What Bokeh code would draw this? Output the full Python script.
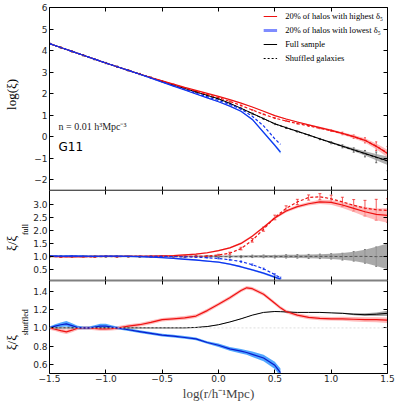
import numpy as np
from bokeh.plotting import figure
from bokeh.layouts import column
from bokeh.models import (Range1d, LinearAxis, FixedTicker, Label, Legend, LegendItem,
                          ColumnDataSource, Span, Whisker, TeeHead)
from bokeh.embed import file_html
from bokeh.resources import INLINE

# ---------------- data ----------------
xs = [-1.5, -1.4, -1.3, -1.2, -1.1, -1.0, -0.9, -0.8, -0.7, -0.6, -0.5, -0.4, -0.3, -0.2, -0.1,
      0.0, 0.1, 0.2, 0.3, 0.4, 0.5, 0.6, 0.7, 0.8, 0.9, 1.0, 1.1, 1.2, 1.3, 1.4, 1.5]
xs_blue = [-1.5, -1.4, -1.3, -1.2, -1.1, -1.0, -0.9, -0.8, -0.7, -0.6, -0.5, -0.4, -0.3, -0.2, -0.1,
           0.0, 0.1, 0.2, 0.3, 0.4, 0.5, 0.55]

# top panel: log(xi)
full_top = [4.32, 4.14, 3.96, 3.78, 3.60, 3.42, 3.25, 3.08, 2.91, 2.74, 2.57, 2.40, 2.24, 2.08, 1.92,
            1.76, 1.55, 1.32, 1.08, 0.84, 0.60, 0.42, 0.25, 0.08, -0.10, -0.27, -0.44, -0.61, -0.78, -0.95, -1.12]
full_err_top = [0.01, 0.01, 0.01, 0.01, 0.01, 0.01, 0.01, 0.01, 0.01, 0.01, 0.01, 0.01, 0.01, 0.01, 0.01,
                0.01, 0.01, 0.01, 0.01, 0.01, 0.015, 0.02, 0.02, 0.025, 0.03, 0.04, 0.05, 0.07, 0.10, 0.14, 0.20]
shuf_top = [4.32, 4.14, 3.96, 3.78, 3.60, 3.42, 3.25, 3.08, 2.91, 2.74, 2.57, 2.40, 2.24, 2.08, 1.91,
            1.75, 1.54, 1.31, 1.07, 0.83, 0.59, 0.41, 0.24, 0.07, -0.11, -0.28, -0.45, -0.62, -0.79, -0.96, -1.13]
shuf_err_top = [0.03, 0.03, 0.03, 0.03, 0.03, 0.03, 0.03, 0.03, 0.03, 0.03, 0.03, 0.03, 0.03, 0.03, 0.03,
                0.03, 0.03, 0.03, 0.03, 0.03, 0.03, 0.03, 0.03, 0.03, 0.03, 0.05, 0.07, 0.10, 0.15, 0.25, 0.45]
red_top = [4.32, 4.14, 3.96, 3.78, 3.60, 3.42, 3.25, 3.08, 2.91, 2.75, 2.59, 2.44, 2.29, 2.15, 2.01,
           1.87, 1.72, 1.56, 1.38, 1.18, 0.98, 0.82, 0.68, 0.55, 0.42, 0.29, 0.15, 0.0, -0.17, -0.45, -0.78]
red_err_top = [0.01, 0.01, 0.01, 0.01, 0.01, 0.01, 0.01, 0.01, 0.01, 0.01, 0.01, 0.01, 0.01, 0.01, 0.01,
               0.01, 0.01, 0.01, 0.01, 0.01, 0.02, 0.02, 0.03, 0.03, 0.04, 0.05, 0.06, 0.08, 0.10, 0.13, 0.17]
red_shuf_top = [4.32, 4.14, 3.96, 3.78, 3.60, 3.42, 3.25, 3.08, 2.91, 2.74, 2.58, 2.42, 2.26, 2.11, 1.96,
                1.81, 1.64, 1.45, 1.24, 1.04, 0.86, 0.73, 0.61, 0.50, 0.39, 0.28, 0.15, 0.0, -0.17, -0.44, -0.76]
red_shuf_err_top = [0.02, 0.02, 0.02, 0.02, 0.02, 0.02, 0.02, 0.02, 0.02, 0.02, 0.02, 0.02, 0.02, 0.02, 0.02,
                    0.02, 0.02, 0.02, 0.02, 0.02, 0.02, 0.02, 0.02, 0.02, 0.02, 0.04, 0.06, 0.08, 0.12, 0.20, 0.30]
blue_top = [4.32, 4.14, 3.96, 3.78, 3.60, 3.42, 3.25, 3.08, 2.90, 2.72, 2.53, 2.35, 2.17, 1.98, 1.80,
            1.62, 1.42, 1.18, 0.80, 0.20, -0.40, -0.72]
blue_err_top = [0.01, 0.01, 0.01, 0.01, 0.01, 0.01, 0.01, 0.01, 0.01, 0.01, 0.01, 0.01, 0.01, 0.01, 0.01,
                0.01, 0.02, 0.03, 0.04, 0.05, 0.06, 0.07]
blue_shuf_top = [4.32, 4.14, 3.96, 3.78, 3.60, 3.42, 3.25, 3.08, 2.91, 2.73, 2.55, 2.37, 2.20, 2.02, 1.85,
                 1.68, 1.50, 1.28, 0.95, 0.50, -0.10, -0.36]

# middle panel: xi / xi_full
red_mid = [1.0, 0.99, 0.98, 0.99, 1.0, 1.0, 1.0, 1.0, 1.0, 1.01, 1.02, 1.03, 1.06, 1.09, 1.14,
           1.22, 1.33, 1.50, 1.78, 2.12, 2.48, 2.75, 2.92, 3.03, 3.10, 3.08, 2.98, 2.85, 2.72, 2.62, 2.58]
red_err_mid = [0.02, 0.02, 0.02, 0.02, 0.02, 0.02, 0.02, 0.02, 0.02, 0.02, 0.02, 0.02, 0.025, 0.025, 0.03,
               0.03, 0.035, 0.04, 0.04, 0.045, 0.05, 0.055, 0.06, 0.07, 0.08, 0.09, 0.11, 0.14, 0.18, 0.23, 0.28]
red_shuf_mid = [1.0, 0.98, 1.0, 0.99, 0.98, 1.0, 0.99, 1.0, 1.0, 0.99, 1.0, 1.0, 1.0, 1.0, 1.01,
                1.05, 1.12, 1.30, 1.62, 2.05, 2.50, 2.85, 3.10, 3.27, 3.30, 3.22, 3.10, 2.97, 2.86, 2.80, 2.77]
red_shuf_err_mid = [0.02, 0.02, 0.02, 0.02, 0.02, 0.02, 0.02, 0.02, 0.02, 0.02, 0.02, 0.02, 0.02, 0.02, 0.02,
                    0.03, 0.04, 0.05, 0.07, 0.08, 0.09, 0.10, 0.10, 0.10, 0.12, 0.14, 0.18, 0.22, 0.30, 0.40, 0.45]
blue_mid = [1.02, 1.01, 1.02, 1.01, 1.0, 1.01, 1.01, 1.0, 0.99, 0.97, 0.95, 0.92, 0.89, 0.86, 0.82,
            0.78, 0.70, 0.60, 0.48, 0.35, 0.20, 0.12]
blue_err_mid = [0.02, 0.02, 0.02, 0.02, 0.02, 0.02, 0.02, 0.02, 0.02, 0.02, 0.02, 0.02, 0.02, 0.02, 0.025,
                0.025, 0.03, 0.03, 0.035, 0.04, 0.045, 0.05]
blue_shuf_mid = [1.0, 1.0, 1.0, 1.0, 1.0, 1.0, 1.0, 1.0, 1.0, 1.0, 1.0, 0.99, 0.98, 0.97, 0.95,
                 0.92, 0.87, 0.80, 0.68, 0.52, 0.30, 0.17]
blue_shuf_err_mid = [0.01, 0.01, 0.01, 0.01, 0.01, 0.01, 0.01, 0.01, 0.01, 0.01, 0.01, 0.01, 0.01, 0.01, 0.015,
                     0.02, 0.02, 0.025, 0.03, 0.03, 0.03, 0.03]
full_mid = [1.0, 1.0, 1.0, 1.0, 1.0, 1.0, 1.0, 1.0, 1.0, 1.0, 1.0, 1.0, 1.0, 1.0, 1.0,
            1.0, 1.0, 1.0, 1.0, 1.0, 1.0, 1.0, 1.0, 1.0, 1.0, 1.0, 1.0, 1.0, 1.0, 1.0, 1.0]
full_err_mid = [0.03, 0.03, 0.03, 0.03, 0.03, 0.03, 0.03, 0.03, 0.03, 0.03, 0.03, 0.03, 0.03, 0.03, 0.03,
                0.03, 0.035, 0.04, 0.045, 0.05, 0.05, 0.06, 0.065, 0.075, 0.085, 0.10, 0.13, 0.18, 0.26, 0.37, 0.50]
shuf_mid = [1.0, 1.0, 0.99, 1.0, 1.0, 1.0, 1.0, 1.0, 0.99, 1.0, 1.0, 1.0, 0.99, 1.0, 1.0,
            0.99, 0.99, 0.99, 1.0, 1.0, 0.99, 1.0, 1.0, 1.0, 1.0, 1.0, 0.99, 1.0, 1.0, 0.99, 1.0]

# bottom panel: xi / xi_shuffled
xb = [-1.5, -1.45, -1.4, -1.35, -1.3, -1.25, -1.2, -1.15, -1.1, -1.05, -1.0, -0.95, -0.9, -0.8, -0.7,
      -0.6, -0.5, -0.4, -0.3, -0.2, -0.1, 0.0, 0.1, 0.2, 0.25, 0.3, 0.4, 0.5, 0.55, 0.6, 0.7, 0.8, 0.9,
      1.0, 1.1, 1.2, 1.3, 1.4, 1.5]
xb_blue = [-1.5, -1.45, -1.4, -1.35, -1.3, -1.25, -1.2, -1.15, -1.1, -1.05, -1.0, -0.95, -0.9, -0.8, -0.7,
           -0.6, -0.5, -0.4, -0.3, -0.2, -0.1, 0.0, 0.1, 0.2, 0.25, 0.3, 0.4, 0.5, 0.55]
red_bot = [1.0, 0.985, 0.97, 0.957, 0.975, 0.998, 1.0, 1.0, 0.995, 0.99, 0.99, 0.992, 0.998, 1.02, 1.035,
           1.06, 1.09, 1.10, 1.11, 1.13, 1.19, 1.26, 1.33, 1.41, 1.44, 1.43, 1.37, 1.27, 1.22, 1.18, 1.14,
           1.115, 1.105, 1.10, 1.10, 1.095, 1.09, 1.09, 1.085]
red_err_bot = [0.02, 0.02, 0.022, 0.025, 0.022, 0.02, 0.02, 0.02, 0.02, 0.02, 0.02, 0.02, 0.02, 0.02, 0.02,
               0.02, 0.02, 0.02, 0.02, 0.02, 0.02, 0.02, 0.02, 0.02, 0.02, 0.02, 0.02, 0.02, 0.02, 0.02, 0.02,
               0.02, 0.02, 0.02, 0.022, 0.024, 0.026, 0.028, 0.03]
blue_bot = [1.0, 1.02, 1.035, 1.045, 1.025, 1.005, 1.0, 1.0, 1.01, 1.02, 1.02, 1.01, 1.0, 0.98, 0.96,
            0.94, 0.92, 0.91, 0.895, 0.88, 0.84, 0.81, 0.77, 0.745, 0.73, 0.71, 0.67, 0.59, 0.51]
blue_err_bot = [0.015, 0.02, 0.025, 0.03, 0.025, 0.02, 0.015, 0.015, 0.02, 0.025, 0.025, 0.02, 0.015, 0.015, 0.015,
                0.015, 0.015, 0.015, 0.015, 0.015, 0.015, 0.02, 0.02, 0.025, 0.025, 0.03, 0.035, 0.04, 0.045]
full_bot = [1.0, 1.0, 1.0, 1.0, 1.0, 1.0, 1.0, 1.0, 1.0, 1.0, 1.0, 1.0, 1.0, 1.0, 1.0,
            1.0, 1.0, 1.0, 1.0, 1.005, 1.015, 1.035, 1.065, 1.10, 1.12, 1.14, 1.17, 1.18, 1.178, 1.175, 1.17,
            1.17, 1.17, 1.165, 1.16, 1.15, 1.145, 1.15, 1.16]
full_err_bot = [0.002, 0.002, 0.002, 0.002, 0.002, 0.002, 0.002, 0.002, 0.002, 0.002, 0.002, 0.002, 0.002, 0.002, 0.002,
                0.002, 0.002, 0.002, 0.002, 0.002, 0.002, 0.002, 0.002, 0.002, 0.002, 0.002, 0.002, 0.002, 0.002, 0.002,
                0.002, 0.002, 0.002, 0.002, 0.006, 0.01, 0.015, 0.02, 0.028]

x_ticks = [-1.5, -1.0, -0.5, 0.0, 0.5, 1.0, 1.5]
x_tick_labels = ["\u22121.5", "\u22121.0", "\u22120.5", "0.0", "0.5", "1.0", "1.5"]
top_ticks = [-2, -1, 0, 1, 2, 3, 4, 5, 6]
top_tick_labels = ["\u22122", "\u22121", "0", "1", "2", "3", "4", "5", "6"]
mid_ticks = [0.5, 1.0, 1.5, 2.0, 2.5, 3.0]
mid_tick_labels = ["0.5", "1.0", "1.5", "2.0", "2.5", "3.0"]
bot_ticks = [0.6, 0.8, 1.0, 1.2, 1.4]
bot_tick_labels = ["0.6", "0.8", "1.0", "1.2", "1.4"]

legend_labels = ["20% of halos with highest \u03b4\u2085", "20% of halos with lowest \u03b4\u2085",
                 "Full sample", "Shuffled galaxies"]

# ---------------- styling helpers ----------------
RED = "#ee1111"
BLUE = "#1133ee"
BLUE_BAND = "#3d9cff"
RED_BAND = "#ff9c9c"
GRAY_BAND = "#9a9a9a"
SERIF = "Liberation Serif"
EM, EN, THIN = "\u2003", "\u2002", "\u2009"

xr = Range1d(-1.5, 1.5)
TOP_H, MID_H, BOT_H, TOP_PAD = 183, 90, 93, 7
LEFT_B, FRAME_W = 48, 338


def style_axis(ax, ticks, labels=None, line_color="black", line_width=1):
    ax.ticker = FixedTicker(ticks=ticks)
    ax.major_tick_in = 4
    ax.major_tick_out = 0
    ax.minor_tick_line_color = None
    ax.axis_line_color = line_color
    ax.axis_line_width = line_width
    ax.major_tick_line_color = "black"
    if labels is not None:
        ax.major_label_overrides = {float(t): l for t, l in zip(ticks, labels)}
        ax.major_label_text_font = "DejaVu Sans"
        ax.major_label_text_font_size = "9px"
        ax.major_label_text_color = "#262626"
        ax.major_label_standoff = 2
    else:
        ax.major_label_text_font_size = "0px"
        ax.major_label_text_color = None
        ax.major_label_standoff = 0


def set_title(ax, text, size, standoff):
    ax.axis_label = text
    ax.axis_label_text_font = SERIF
    ax.axis_label_text_font_style = "normal"
    ax.axis_label_text_font_size = size
    ax.axis_label_text_color = "black"
    ax.axis_label_standoff = standoff


def add_outer_title(p, text, size, standoff):
    ax = LinearAxis(ticker=FixedTicker(ticks=[]), axis_line_color=None,
                    major_tick_line_color=None, minor_tick_line_color=None,
                    major_label_text_font_size="0px", major_label_standoff=0,
                    major_tick_in=0, major_tick_out=0)
    set_title(ax, text, size, standoff)
    p.add_layout(ax, "left")


def make_fig(yr, fh, top_border, bottom_border):
    p = figure(x_range=xr, y_range=Range1d(*yr), frame_width=FRAME_W, frame_height=fh,
               output_backend="svg", toolbar_location=None,
               min_border_left=LEFT_B, min_border_right=8,
               min_border_top=top_border, min_border_bottom=bottom_border)
    p.xgrid.visible = False
    p.ygrid.visible = False
    p.outline_line_color = None
    p.add_layout(LinearAxis(), "above")
    p.add_layout(LinearAxis(), "right")
    return p


def band(p, x, y, e, color, alpha):
    y = np.array(y)
    e = np.array(e)
    return p.varea(x=x, y1=y - e, y2=y + e, fill_color=color, fill_alpha=alpha)


def errbars(p, x, y, e, color, width=0.8, head=3):
    y = np.array(y)
    e = np.array(e)
    src = ColumnDataSource(dict(base=x, lower=y - e, upper=y + e))
    w = Whisker(source=src, base="base", lower="lower", upper="upper",
                line_color=color, line_width=width,
                upper_head=TeeHead(size=head, line_color=color, line_width=width),
                lower_head=TeeHead(size=head, line_color=color, line_width=width))
    p.add_layout(w)


# ---------------- top panel ----------------
p1 = make_fig((-2.5, 6), TOP_H, TOP_PAD, 0)
style_axis(p1.left[0], top_ticks, top_tick_labels)
style_axis(p1.right[0], top_ticks)
style_axis(p1.above[0], x_ticks)
style_axis(p1.below[0], x_ticks, line_width=1.5)
set_title(p1.left[0], EN + THIN + "log(\u03be)", "13px", 12)

band(p1, xs, full_top, full_err_top, GRAY_BAND, 0.8)
band(p1, xs, red_top, red_err_top, RED_BAND, 0.7)
band(p1, xs_blue, blue_top, blue_err_top, BLUE_BAND, 0.7)
p1.line(xs, full_top, line_color="black", line_width=1)
p1.line(xs, shuf_top, line_color="black", line_width=1, line_dash="3 2")
errbars(p1, xs, shuf_top, shuf_err_top, "#333333", 0.7, 2)
p1.line(xs, red_top, line_color=RED, line_width=1.2)
p1.line(xs, red_shuf_top, line_color=RED, line_width=1.2, line_dash="3 2")
errbars(p1, xs, red_shuf_top, red_shuf_err_top, RED, 0.7, 2)
p1.line(xs_blue, blue_top, line_color=BLUE, line_width=1.2)
p1.line(xs_blue, blue_shuf_top, line_color=BLUE, line_width=1.2, line_dash="3 2")

# legend proxies: renderers holding only missing values, used just for the legend glyphs
nan_pair = [np.nan, np.nan]
r_red = p1.line(nan_pair, nan_pair, line_color=RED, line_width=1.2)
r_blue = p1.line(nan_pair, nan_pair, line_color="#7f8cff", line_width=3)
r_full = p1.line(nan_pair, nan_pair, line_color="black", line_width=1.2)
r_shuf = p1.line(nan_pair, nan_pair, line_color="black", line_width=1.2, line_dash="2 2")
legend = Legend(items=[LegendItem(label=legend_labels[0], renderers=[r_red]),
                       LegendItem(label=legend_labels[1], renderers=[r_blue]),
                       LegendItem(label=legend_labels[2], renderers=[r_full]),
                       LegendItem(label=legend_labels[3], renderers=[r_shuf])],
                location="top_right", border_line_color=None, background_fill_alpha=0,
                label_text_font=SERIF, label_text_font_size="8.5px", label_text_color="black",
                glyph_width=14, glyph_height=10, label_height=10, spacing=4,
                padding=3, margin=4, label_standoff=8)
p1.add_layout(legend)

p1.add_layout(Label(x=-1.42, y=0.45, text="n = 0.01 h\u00b3Mpc\u207b\u00b3", text_font=SERIF,
                    text_font_size="10px", text_baseline="middle", text_color="#222222"))
p1.add_layout(Label(x=-1.42, y=-0.5, text="G11", text_font="DejaVu Sans",
                    text_font_size="12px", text_baseline="middle", text_color="black"))

# ---------------- middle panel ----------------
p2 = make_fig((0.07, 3.54), MID_H, 0, 0)
style_axis(p2.left[0], mid_ticks, mid_tick_labels)
style_axis(p2.right[0], mid_ticks)
style_axis(p2.above[0], x_ticks, line_color="#555555")
style_axis(p2.below[0], x_ticks, line_color="#808080", line_width=2)
set_title(p2.left[0], EM + EN + "full", "8px", 0)
add_outer_title(p2, "\u03be/\u03be" + EM + THIN, "13px", 0)

band(p2, xs, full_mid, full_err_mid, GRAY_BAND, 0.85)
band(p2, xs, red_mid, red_err_mid, RED_BAND, 0.7)
band(p2, xs_blue, blue_mid, blue_err_mid, BLUE_BAND, 0.6)
p2.line(xs, shuf_mid, line_color="#555555", line_width=1, line_dash="3 2")
errbars(p2, xs, shuf_mid, full_err_mid, "#444444", 0.8, 2)
p2.line(xs, red_mid, line_color=RED, line_width=1.2)
p2.line(xs, red_shuf_mid, line_color=RED, line_width=1.2, line_dash="3 2")
errbars(p2, xs, red_shuf_mid, red_shuf_err_mid, RED, 0.7, 3)
p2.line(xs_blue, blue_mid, line_color=BLUE, line_width=1.3)
p2.line(xs_blue, blue_shuf_mid, line_color=BLUE, line_width=1.2, line_dash="3 2")
errbars(p2, xs_blue, blue_shuf_mid, blue_shuf_err_mid, BLUE, 0.7, 2)

# ---------------- bottom panel ----------------
p3 = make_fig((0.5, 1.52), BOT_H, 0, 0)
style_axis(p3.left[0], bot_ticks, bot_tick_labels)
style_axis(p3.right[0], bot_ticks)
style_axis(p3.above[0], x_ticks, line_color="#808080", line_width=2)
style_axis(p3.below[0], x_ticks, x_tick_labels)
set_title(p3.left[0], EM + THIN + "shuffled", "8px", 0)
add_outer_title(p3, "\u03be/\u03be" + EM + EM + THIN + THIN, "13px", 0)
p3.below[0].major_label_standoff = 1
p3.below[0].axis_label = "log(r/h\u207b\u00b9Mpc)"
p3.below[0].axis_label_text_font = SERIF
p3.below[0].axis_label_text_font_style = "normal"
p3.below[0].axis_label_text_font_size = "13px"
p3.below[0].axis_label_standoff = 1

p3.add_layout(Span(location=1.0, dimension="width", line_color="#dddddd",
                   line_width=1, line_dash="2 2"))
band(p3, xb, full_bot, full_err_bot, GRAY_BAND, 0.9)
band(p3, xb, red_bot, red_err_bot, RED_BAND, 0.7)
band(p3, xb_blue, blue_bot, blue_err_bot, BLUE_BAND, 0.9)
p3.line(xb, full_bot, line_color="black", line_width=1)
p3.line(xb, red_bot, line_color=RED, line_width=1.2)
p3.line(xb_blue, blue_bot, line_color="#0a1acc", line_width=1.2)

layout = column(p1, p2, p3, spacing=0)
open("out.html", "w").write(file_html(layout, INLINE))
